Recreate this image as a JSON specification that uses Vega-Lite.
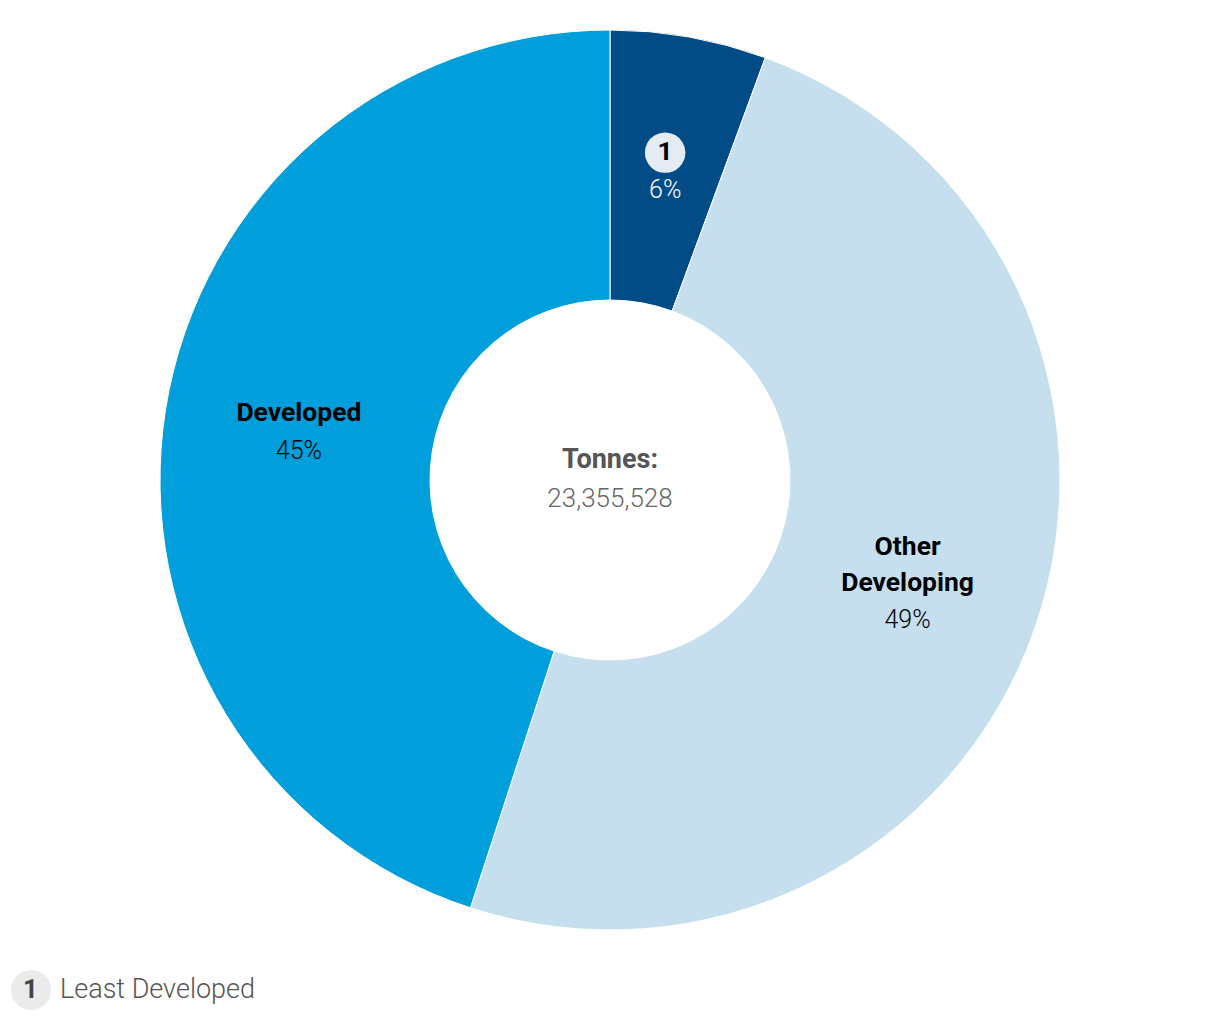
{
  "$schema": "https://vega.github.io/schema/vega-lite/v6.json",
  "width": 1220,
  "height": 960,
  "padding": 0,
  "autosize": {"type": "pad"},
  "background": "white",
  "config": {"view": {"stroke": null}, "font": "Roboto"},
  "data": {
    "values": [
      {"group": "Least Developed", "tonnes": 1310000, "rank": 1, "l1": "", "l2": "1", "l3": "", "p2": "6%", "p3": ""},
      {"group": "Other Developing", "tonnes": 11540000, "rank": 2, "l1": "Other", "l2": "", "l3": "Developing", "p2": "", "p3": "49%"},
      {"group": "Developed", "tonnes": 10505528, "rank": 3, "l1": "", "l2": "Developed", "l3": "", "p2": "45%", "p3": ""}
    ]
  },
  "encoding": {
    "theta": {"field": "tonnes", "type": "quantitative", "stack": true},
    "order": {"field": "rank", "type": "quantitative"}
  },
  "layer": [
    {
      "mark": {"type": "arc", "outerRadius": 450, "innerRadius": 180, "stroke": "white", "strokeWidth": 1},
      "encoding": {
        "color": {
          "field": "group",
          "type": "nominal",
          "scale": {"domain": ["Least Developed", "Other Developing", "Developed"], "range": ["#014b86", "#c6dfee", "#009fdb"]},
          "legend": null
        }
      }
    },
    {
      "transform": [{"filter": "datum.group === 'Least Developed'"}],
      "mark": {"type": "arc", "outerRadius": 0, "innerRadius": 0},
      "encoding": {
        "theta": null,
        "order": null,
        "fill": {
          "field": "group",
          "type": "nominal",
          "scale": {"domain": ["Least Developed"], "range": ["#ebebeb"]},
          "legend": {
            "orient": "none",
            "legendX": 23,
            "legendY": 970,
            "title": "1",
            "titleOrient": "left",
            "titleFontSize": 26,
            "titleFontWeight": "bold",
            "titleColor": "#444444",
            "titlePadding": -27,
            "symbolType": "circle",
            "symbolSize": 1600,
            "symbolStrokeWidth": 0,
            "labelFontSize": 27,
            "labelFontWeight": 300,
            "labelColor": "#555555",
            "labelOffset": 9,
            "labelLimit": 400
          }
        }
      }
    },
    {
      "mark": {"type": "text", "radius": 315, "fontSize": 94, "color": "#e4ebf2", "dy": -19, "baseline": "middle", "align": "center"},
      "encoding": {
        "text": {"condition": {"test": "datum.group === 'Least Developed'", "value": "●"}, "value": ""}
      }
    },
    {
      "mark": {"type": "text", "radius": 315, "dy": -36, "fontSize": 26.5, "fontWeight": "bold", "color": "black", "baseline": "middle", "align": "center"},
      "encoding": {"text": {"field": "l1"}}
    },
    {
      "mark": {"type": "text", "radius": 315, "dy": -18, "fontSize": 26.5, "fontWeight": "bold", "color": "black", "baseline": "middle", "align": "center"},
      "encoding": {"text": {"field": "l2"}}
    },
    {
      "mark": {"type": "text", "radius": 315, "dy": 0, "fontSize": 26.5, "fontWeight": "bold", "color": "black", "baseline": "middle", "align": "center"},
      "encoding": {"text": {"field": "l3"}}
    },
    {
      "mark": {"type": "text", "radius": 315, "dy": 20, "fontSize": 25, "fontWeight": 300, "baseline": "middle", "align": "center"},
      "encoding": {
        "text": {"field": "p2"},
        "color": {"condition": {"test": "datum.group === 'Least Developed'", "value": "white"}, "value": "black"}
      }
    },
    {
      "mark": {"type": "text", "radius": 315, "dy": 37, "fontSize": 25, "fontWeight": 300, "color": "black", "baseline": "middle", "align": "center"},
      "encoding": {"text": {"field": "p3"}}
    },
    {
      "data": {"values": [{"caption": "Tonnes:", "total": 23355528}]},
      "encoding": {"theta": null, "order": null},
      "layer": [
        {
          "mark": {"type": "text", "dy": -20, "fontSize": 27, "fontWeight": "bold", "color": "#555555", "baseline": "middle", "align": "center"},
          "encoding": {"text": {"field": "caption"}}
        },
        {
          "mark": {"type": "text", "dy": 19, "fontSize": 26, "fontWeight": 300, "color": "#666666", "baseline": "middle", "align": "center"},
          "encoding": {"text": {"field": "total", "type": "quantitative", "format": ","}}
        }
      ]
    }
  ]
}
